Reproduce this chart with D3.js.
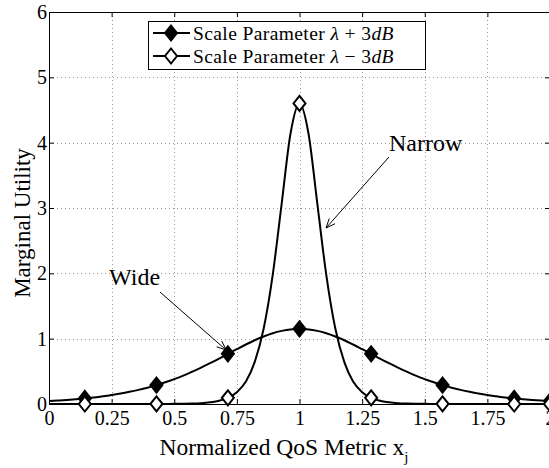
<!DOCTYPE html>
<html>
<head>
<meta charset="utf-8">
<script src="https://cdn.jsdelivr.net/npm/d3@7"></script>
<style>
  html, body { margin: 0; padding: 0; background: #fff; }
  svg { display: block; }
  text { font-family: "Liberation Serif", "Times New Roman", serif; fill: #000; }
</style>
</head>
<body>
<svg id="chart" width="549" height="468"></svg>
<script>
// ---- data ----
const xGrid = [0.000,0.036,0.071,0.107,0.143,0.179,0.214,0.250,0.286,0.321,0.357,0.393,0.429,0.464,0.500,0.536,0.571,0.607,0.643,0.679,0.714,0.750,0.786,0.821,0.857,0.893,0.929,0.964,1.000,1.036,1.071,1.107,1.143,1.179,1.214,1.250,1.286,1.321,1.357,1.393,1.429,1.464,1.500,1.536,1.571,1.607,1.643,1.679,1.714,1.750,1.786,1.821,1.857,1.893,1.929,1.964,2.000];
const wideValues = [0.045,0.053,0.062,0.073,0.086,0.100,0.118,0.137,0.160,0.186,0.216,0.250,0.289,0.332,0.381,0.435,0.494,0.557,0.625,0.695,0.768,0.840,0.911,0.976,1.034,1.083,1.119,1.142,1.150,1.142,1.119,1.083,1.034,0.976,0.911,0.840,0.768,0.695,0.625,0.557,0.494,0.435,0.381,0.332,0.289,0.250,0.216,0.186,0.160,0.137,0.118,0.100,0.086,0.073,0.062,0.053,0.045];
const narrowValues = [0,0,0,0,0,0,0,0,0,0,0,0,0,0.001,0.002,0.004,0.007,0.013,0.026,0.049,0.095,0.181,0.343,0.640,1.156,1.974,3.071,4.137,4.600,4.137,3.071,1.974,1.156,0.640,0.343,0.181,0.095,0.049,0.026,0.013,0.007,0.004,0.002,0.001,0,0,0,0,0,0,0,0,0,0,0,0,0];
const markerX = [0.143,0.429,0.714,1.000,1.286,1.571,1.857,2.000];
const wideMarkers = [0.086,0.289,0.768,1.150,0.768,0.289,0.086,0.045];
const narrowMarkers = [0,0.002,0.095,4.600,0.095,0.002,0,0];
const xTicks = [0,0.25,0.5,0.75,1,1.25,1.5,1.75,2];
const xTickLabels = ["0","0.25","0.5","0.75","1","1.25","1.5","1.75","2"];
const yTicks = [0,1,2,3,4,5,6];
const yTickLabels = ["0","1","2","3","4","5","6"];
const annotLabels = ["Narrow","Wide"];
const annotText = [[1.357,3.87],[0.24,1.82]];
const annotFrom = [[1.357,3.78],[0.443,1.714]];
const annotTo = [[1.106,2.694],[0.707,0.827]];

// ---- layout ----
const svg = d3.select("#chart");
const L = 49, R = 550, T = 12, B = 404;
const x = d3.scaleLinear().domain([0,2]).range([L,R]);
const y = d3.scaleLinear().domain([0,6]).range([B,T]);

svg.append("rect").attr("width",549).attr("height",468).attr("fill","#fff");

// grid
const grid = svg.append("g").attr("stroke","#9a9a9a").attr("stroke-width",1).attr("stroke-dasharray","1,3");
grid.selectAll(".gx").data(xTicks.slice(1,-1)).join("line")
  .attr("x1",d=>Math.round(x(d))+0.5).attr("x2",d=>Math.round(x(d))+0.5)
  .attr("y1",T).attr("y2",B);
grid.selectAll(".gy").data(yTicks.slice(1,-1)).join("line")
  .attr("y1",d=>Math.round(y(d))+0.5).attr("y2",d=>Math.round(y(d))+0.5)
  .attr("x1",L).attr("x2",R);

// axes
function styleAxis(g){
  g.select(".domain").remove();
  g.attr("font-family",null);
  g.selectAll(".tick line").attr("stroke","#000");
  g.selectAll("text").style("font-family","'Liberation Serif', serif").style("font-size","20px").attr("fill","#000");
}
svg.append("g").attr("transform",`translate(0,${B})`)
  .call(d3.axisBottom(x).tickValues(xTicks).tickFormat((d,i)=>xTickLabels[i]).tickSize(-5).tickPadding(7))
  .call(styleAxis);
svg.append("g").attr("transform",`translate(${L},0)`)
  .call(d3.axisLeft(y).tickValues(yTicks).tickFormat((d,i)=>yTickLabels[i]).tickSize(-5).tickPadding(2))
  .call(styleAxis);
svg.append("g").attr("transform",`translate(0,${T})`)
  .call(d3.axisTop(x).tickValues(xTicks).tickFormat("").tickSize(-5))
  .call(styleAxis);
svg.append("g").attr("transform",`translate(${R},0)`)
  .call(d3.axisRight(y).tickValues(yTicks).tickFormat("").tickSize(-5))
  .call(styleAxis);

// box
svg.append("rect").attr("x",L+0.5).attr("y",T+0.5).attr("width",R-L).attr("height",B-T)
  .attr("fill","none").attr("stroke","#000").attr("stroke-width",1);

// curves
const line = d3.line().x(d=>x(d[0])).y(d=>y(d[1])).curve(d3.curveMonotoneX);
const diamond = (w,h) => `M0,${-h/2}L${w/2},0L0,${h/2}L${-w/2},0Z`;

function drawSeries(vals, mx, mv, filled){
  svg.append("path").datum(xGrid.map((xv,i)=>[xv,vals[i]]))
    .attr("d",line).attr("fill","none").attr("stroke","#000").attr("stroke-width",2);
  svg.append("g").selectAll("path").data(mx.map((xv,i)=>[xv,mv[i]])).join("path")
    .attr("transform",d=>`translate(${x(d[0])},${y(d[1])})`)
    .attr("d",diamond(12,15))
    .attr("fill",filled?"#000":"#fff").attr("stroke","#000").attr("stroke-width",2);
}
drawSeries(wideValues, markerX, wideMarkers, true);
drawSeries(narrowValues, markerX, narrowMarkers, false);

// annotations
annotLabels.forEach((lab,i)=>{
  svg.append("text").attr("x",x(annotText[i][0])).attr("y",y(annotText[i][1]))
    .style("font-size","24px").text(lab);
  const x1=x(annotFrom[i][0]), y1=y(annotFrom[i][1]), x2=x(annotTo[i][0]), y2=y(annotTo[i][1]);
  svg.append("line").attr("x1",x1).attr("y1",y1).attr("x2",x2).attr("y2",y2)
    .attr("stroke","#000").attr("stroke-width",1);
  const ang = Math.atan2(y2-y1,x2-x1), len=10, spr=0.4;
  svg.append("path")
    .attr("d",`M${x2-len*Math.cos(ang-spr)},${y2-len*Math.sin(ang-spr)}L${x2},${y2}L${x2-len*Math.cos(ang+spr)},${y2-len*Math.sin(ang+spr)}`)
    .attr("fill","none").attr("stroke","#000").attr("stroke-width",1);
});

// axis labels
const xl = svg.append("text").attr("x",(162+406)/2).attr("y",455).attr("text-anchor","middle").style("font-size","23.5px");
xl.append("tspan").text("Normalized QoS Metric x");
xl.append("tspan").attr("dy",7).style("font-size","15px").text("j");
svg.append("text").attr("transform","translate(30,223) rotate(-90)").attr("text-anchor","middle")
  .style("font-size","23px").text("Marginal Utility");

// legend
const lg = svg.append("g");
lg.append("rect").attr("x",148.5).attr("y",21.5).attr("width",277).attr("height",48)
  .attr("fill","#fff").attr("stroke","#000").attr("stroke-width",1);
const legRows = [{sign:"+", filled:true, cy:33},{sign:"\u2212", filled:false, cy:56}];
legRows.forEach(r=>{
  lg.append("line").attr("x1",153).attr("x2",190).attr("y1",r.cy).attr("y2",r.cy).attr("stroke","#000").attr("stroke-width",2);
  lg.append("path").attr("transform",`translate(171,${r.cy})`).attr("d",diamond(12,15))
    .attr("fill",r.filled?"#000":"#fff").attr("stroke","#000").attr("stroke-width",2);
  const t = lg.append("text").attr("x",193).attr("y",r.cy+7).style("font-size","19.5px").style("letter-spacing","0.4px");
  t.append("tspan").text("Scale Parameter ");
  t.append("tspan").style("font-style","italic").text("\u03bb");
  t.append("tspan").text(" " + r.sign + " 3");
  t.append("tspan").style("font-style","italic").text("dB");
});
</script>
</body>
</html>
